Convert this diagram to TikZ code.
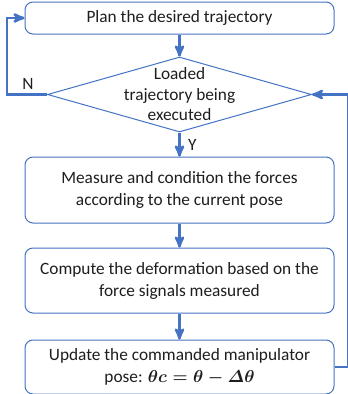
\documentclass[tikz,border=0pt]{standalone}
\usepackage{xcolor}
\usepackage{amsmath}
\usepackage{fontspec}
\setmainfont{Carlito}
\usepackage{tikz}
\usetikzlibrary{arrows}
\usetikzlibrary{positioning}
\usetikzlibrary{shapes.geometric}
\definecolor{flowblue}{RGB}{68,114,196}
\definecolor{flowtext}{RGB}{30,30,30}
\tikzset{
  stepbox/.style = {draw=flowblue, line width=1pt, rounded corners=8pt, fill=white,
    minimum width=309pt, align=center, text=flowtext, font=\fontsize{17.3}{22}\selectfont},
  decision/.style = {diamond, draw=flowblue, line width=1pt, aspect=3.5,
    minimum width=264pt, minimum height=75pt, inner sep=0pt},
  flow/.style = {flowblue, line width=2.6pt, ->, >=stealth'}
}

\begin{document}
\begin{tikzpicture} [x=1pt, y=-1pt]
\useasboundingbox (0,0) rectangle (348,394);
\node[stepbox, minimum height=32pt] (plan) at (179.5,18) {Plan the desired trajectory};
\node[decision, below=22pt of plan] (check) {};
\node[align=center, text=flowtext, font=\fontsize{17.3}{20.5}\selectfont] (checktxt) at (check.center) {Loaded\\trajectory being\\executed};
\node[stepbox, minimum height=66pt, below=24pt of check] (measure) {Measure and condition the forces\\according to the current pose};
\node[stepbox, minimum height=65pt, below=24pt of measure] (compute) {Compute the deformation based on the\\force signals measured};
\node[stepbox, minimum height=54pt, below=26pt of compute] (update) {Update the commanded manipulator\\pose: {\boldmath$\theta c = \theta - \varDelta\theta$}};
\coordinate (nleft) at (7,0);
\coordinate (rright) at (348.6,0);
% connectors
\draw[flow] (plan) -- (check);
\draw[flow] (check) -- node[right, xshift=4pt, text=flowtext, font=\fontsize{17.3}{20}\selectfont] (ylab) {Y} (measure);
\draw[flow] (measure) -- (compute);
\draw[flow] (compute) -- (update);
\draw[flow] (check.west) -- node[above, pos=0.5, text=flowtext, font=\fontsize{17.3}{20}\selectfont, xshift=1pt] (nlab) {N} (check.west -| nleft) -- (plan.west -| nleft) -- (plan.west);
\draw[flow] (update.east) -- (update.east -| rright) -- (check.east -| rright) -- (check.east);
\end{tikzpicture}
\end{document}
